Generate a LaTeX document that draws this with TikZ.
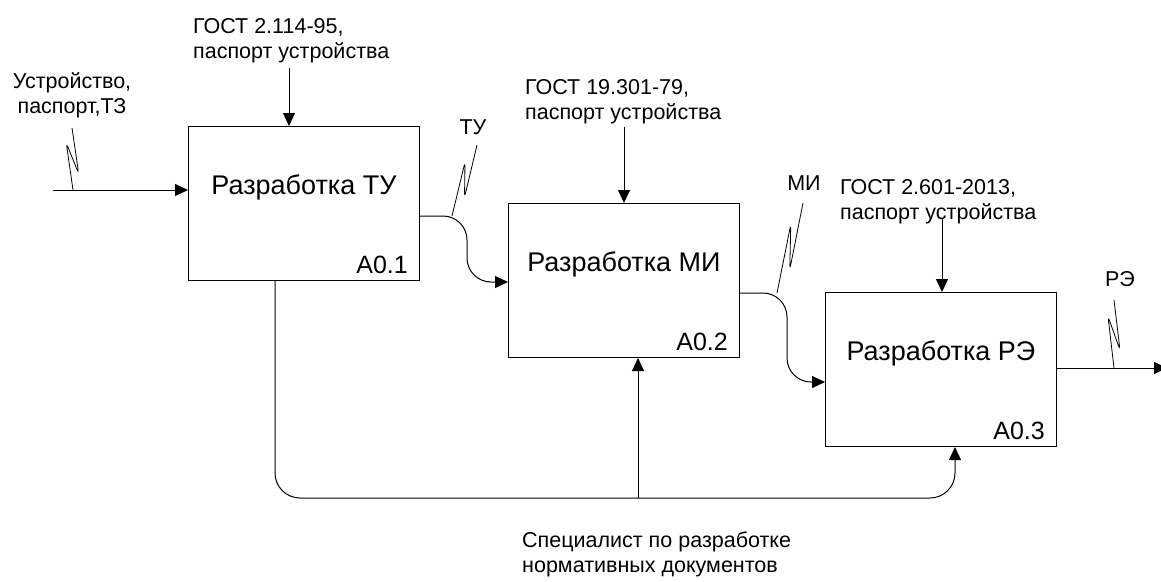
\documentclass[tikz,border=0pt]{standalone}
\usepackage{fontspec}
\setmainfont{Liberation Sans}
\usetikzlibrary{arrows.meta,calc}
\tikzset{font={\fontsize{21.5pt}{25pt}\selectfont}}
\tikzset{
  procbox/.style={draw, line width=1pt, minimum width=231pt, minimum height=154pt, inner sep=0pt, anchor=north west},
  flow/.style={line width=1pt, -{Triangle[length=13pt,width=12pt]}},
  squig/.style={line width=0.8pt, rounded corners=5pt},
  lbl/.style={align=left, anchor=west, inner sep=0pt},
}
\newcommand\idefsq[2]{\draw[squig] (#1) -- ($(#1)!0.76!(#2)+(-6,0)$) -- ($(#1)!0.26!(#2)+(6,0)$) -- (#2);}

\begin{document}
\begin{tikzpicture}[x=1pt,y=-1pt]
		\useasboundingbox (0,0) rectangle (1161,581);
		%Blocks
		\node[procbox] (b1) at (188,126) {};
		\node[procbox] (b2) at (508,203) {};
		\node[procbox] (b3) at (825,292) {};
		\foreach \b/\t/\n in {b1/ТУ/1, b2/МИ/2, b3/РЭ/3}{
			\node[font=\fontsize{27pt}{30pt}\selectfont] (\b-t) at ([yshift=-61pt]\b.north) {Разработка \t};
			\node[font=\fontsize{25pt}{28pt}\selectfont, anchor=base east, inner sep=0pt] (\b-n) at ([xshift=-12pt,yshift=8pt]\b.south east) {A0.\n};
		}
		%Labels
		\node[align=center, inner sep=0pt] (l0) at (72,95) {Устройство,\\паспорт,ТЗ};
		\node[lbl] (l1) at (193,41) {ГОСТ 2.114-95,\\паспорт устройства};
		\node[lbl] (l2) at (525,102) {ГОСТ 19.301-79,\\паспорт устройства};
		\node[lbl] (l3) at (840,202) {ГОСТ 2.601-2013,\\паспорт устройства};
		\node[inner sep=0pt] (lt1) at (473,127) {ТУ};
		\node[inner sep=0pt] (lt2) at (804,183) {МИ};
		\node[inner sep=0pt] (lt3) at (1120,279) {РЭ};
		\node[lbl] (lm) at (522,554) {Специалист по разработке\\нормативных документов};
		%Input
		\coordinate (in1) at (53,190);
		\draw[flow] (in1) -- (in1 -| b1.west);
		%Controls
		\coordinate (c1) at (289,68);
		\coordinate (c2) at (624,127);
		\coordinate (c3) at (942,218);
		\draw[flow] (c1) -- (c1 |- b1.north);
		\draw[flow] (c2) -- (c2 |- b2.north);
		\draw[flow] (c3) -- (c3 |- b3.north);
		%Outputs
		\draw[flow, rounded corners=24pt] (b1.east |- 0,216) -| (467,282) -- (b2.west |- 0,282);
		\draw[flow, rounded corners=24pt] (b2.east |- 0,293) -| (787,382) -- (b3.west |- 0,382);
		\coordinate (out3) at (1167,368);
		\draw[flow] (b3.east |- out3) -- (out3);
		%Mechanism
		\coordinate (m) at (638,498);
		\draw[flow, rounded corners=25pt] (b1.south -| 275,0) |- (m) -| (b3.south -| 955,0);
		\draw[flow] (m) -- (m |- b2.south);
		%Squiggles
		\coordinate (f0) at (73,190); \coordinate (t0) at (72,128);
		\coordinate (f1) at (452,216); \coordinate (t1) at (477,145);
		\coordinate (f2) at (777,293); \coordinate (t2) at (803,203);
		\coordinate (f3) at (1114,368); \coordinate (t3) at (1114,300);
		\idefsq{f0}{t0}
		\idefsq{f1}{t1}
		\idefsq{f2}{t2}
		\idefsq{f3}{t3}
\end{tikzpicture}
\end{document}
